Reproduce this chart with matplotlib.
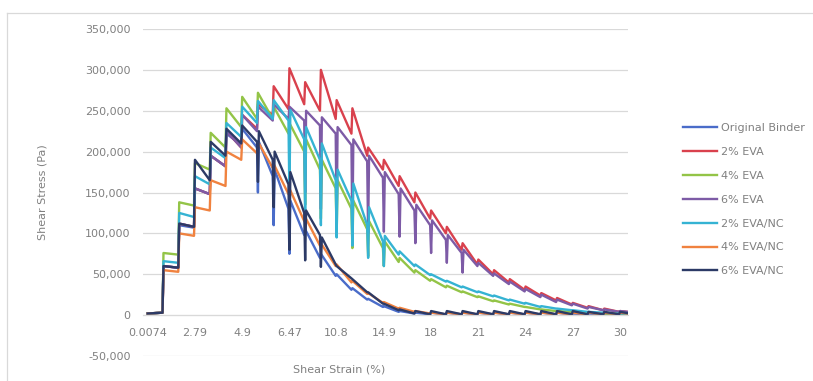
import numpy as np
import matplotlib
matplotlib.use("Agg")
import matplotlib.pyplot as plt
from matplotlib.lines import Line2D
from matplotlib.ticker import FuncFormatter

# strain labels shown on the category axis (every 3rd strain step)
strain_labels = ["0.0074", "2.79", "4.9", "6.47", "10.8", "14.9", "18", "21", "24", "27", "30"]
steps_per_label = 3
n_steps = 31

series_names = ["Original Binder", "2% EVA", "4% EVA", "6% EVA",
                "2% EVA/NC", "4% EVA/NC", "6% EVA/NC"]
colours = ["#4a6cc9", "#d9414d", "#93c447", "#7d5ba6",
           "#35b3d3", "#f0823f", "#2c3a66"]

# shear stress (kPa) at the start (top) and end (bot) of every strain step
orig_top = [2, 60, 110, 155, 195, 222, 228, 212, 178, 140, 105, 75, 50, 33, 20, 11, 5, 3, 3, 3, 3, 3, 3, 3, 3, 3, 3, 2, 2, 2, 2]
orig_bot = [3, 58, 107, 148, 182, 208, 205, 170, 130, 98, 70, 48, 31, 19, 10, 4, 2, 1, 1, 1, 1, 1, 1, 1, 1, 1, 1, 1, 1, 1, 1]
orig_dip = {7: 150, 8: 110, 9: 75}

eva2_top = [2, 60, 112, 155, 195, 225, 245, 258, 280, 302, 285, 300, 263, 253, 205, 190, 170, 150, 128, 108, 88, 68, 55, 44, 35, 27, 21, 15, 11, 8, 5]
eva2_bot = [3, 58, 108, 148, 182, 205, 228, 245, 252, 258, 250, 240, 222, 195, 178, 158, 138, 118, 100, 80, 62, 50, 40, 31, 24, 18, 13, 9, 6, 4, 3]
eva2_dip = {}

eva4_top = [2, 76, 138, 186, 223, 253, 267, 272, 255, 235, 215, 190, 165, 140, 115, 90, 70, 55, 44, 36, 29, 23, 18, 14, 10, 7, 5, 4, 3, 2, 2]
eva4_bot = [3, 74, 134, 178, 205, 230, 240, 240, 222, 200, 178, 155, 130, 105, 82, 65, 52, 42, 34, 28, 22, 17, 13, 10, 7, 5, 4, 3, 2, 2, 2]
eva4_dip = {10: 135, 11: 118, 12: 98, 13: 82, 14: 72, 15: 60}

eva6_top = [2, 60, 112, 155, 195, 225, 245, 255, 258, 255, 250, 242, 230, 215, 195, 175, 155, 135, 116, 98, 80, 64, 51, 41, 32, 25, 19, 14, 10, 7, 5]
eva6_bot = [3, 58, 108, 148, 182, 205, 225, 238, 240, 238, 232, 222, 208, 188, 168, 148, 128, 110, 92, 76, 60, 48, 38, 29, 22, 16, 12, 8, 6, 4, 3]
eva6_dip = {10: 150, 11: 130, 12: 110, 13: 98, 14: 100, 15: 102, 16: 96, 17: 88, 18: 76, 19: 64, 20: 52}

nc2_top = [2, 66, 125, 170, 205, 235, 255, 262, 263, 251, 230, 210, 178, 161, 132, 97, 78, 62, 50, 42, 35, 29, 24, 19, 15, 11, 8, 6, 4, 3, 2]
nc2_bot = [3, 64, 120, 160, 192, 218, 235, 240, 238, 215, 190, 165, 140, 110, 90, 74, 60, 49, 41, 34, 28, 23, 18, 14, 10, 8, 6, 4, 3, 2, 2]
nc2_dip = {9: 145, 10: 120, 11: 110, 12: 95, 13: 85, 14: 70, 15: 60}

nc4_top = [2, 55, 100, 132, 165, 200, 215, 212, 185, 155, 120, 88, 62, 42, 27, 16, 9, 5, 3, 3, 3, 3, 3, 3, 3, 3, 3, 3, 3, 3, 3]
nc4_bot = [3, 53, 97, 128, 158, 190, 198, 180, 148, 115, 85, 60, 40, 26, 15, 8, 4, 2, 1, 1, 1, 1, 1, 1, 1, 1, 1, 1, 1, 1, 1]
nc4_dip = {}

nc6_top = [2, 60, 112, 190, 212, 228, 232, 225, 200, 175, 128, 95, 60, 44, 28, 14, 7, 5, 5, 5, 5, 5, 5, 5, 5, 5, 5, 5, 4, 4, 4]
nc6_bot = [3, 58, 108, 165, 195, 210, 212, 190, 160, 125, 98, 62, 45, 28, 14, 6, 2, 1, 1, 1, 1, 1, 1, 1, 1, 1, 1, 1, 1, 1, 1]
nc6_dip = {7: 163, 8: 132, 9: 80, 10: 67, 11: 59}

tops = [orig_top, eva2_top, eva4_top, eva6_top, nc2_top, nc4_top, nc6_top]
bots = [orig_bot, eva2_bot, eva4_bot, eva6_bot, nc2_bot, nc4_bot, nc6_bot]
dips = [orig_dip, eva2_dip, eva4_dip, eva6_dip, nc2_dip, nc4_dip, nc6_dip]


def build_curve(top, bot, dip):
    # each strain step: (dip) -> top at the start, linear fall to bot at the end
    xs, ys = [], []
    d = 0.02
    for k in range(n_steps):
        x0 = k / steps_per_label
        x1 = (k + 1) / steps_per_label
        if k in dip:
            xs += [x0, x0 + d]
            ys += [dip[k], top[k]]
        else:
            xs.append(x0)
            ys.append(top[k])
        xs.append(x1 - d)
        ys.append(bot[k])
    return np.array(xs), np.array(ys) * 1000


fig = plt.figure(figsize=(8.13, 3.81), dpi=100)
ax = fig.add_axes([0.1759, 0.0656, 0.5966, 0.8583])

grey_txt = "#808080"
grid_col = "#d9d9d9"

for i in range(len(series_names)):
    x, y = build_curve(tops[i], bots[i], dips[i])
    ax.plot(x, y, color=colours[i], lw=1.7, label=series_names[i],
            solid_joinstyle="round")

ax.set_xlim(-0.1, 10.17)
ax.set_ylim(-50000, 350000)
ax.set_yticks(np.arange(-50000, 350001, 50000))
ax.yaxis.set_major_formatter(FuncFormatter(lambda v, p: "{:,.0f}".format(v)))
ax.set_xticks(np.arange(len(strain_labels)))
ax.set_xticklabels(strain_labels)
ax.grid(axis="y", color=grid_col, lw=0.9)
ax.set_axisbelow(True)

for s in ["top", "left", "right"]:
    ax.spines[s].set_visible(False)
ax.spines["bottom"].set_position(("data", 0))
ax.spines["bottom"].set_color(grid_col)
ax.tick_params(axis="both", length=0, labelsize=8, labelcolor=grey_txt)
ax.tick_params(axis="y", pad=9)
ax.tick_params(axis="x", pad=9)

ax.set_ylabel("Shear Stress (Pa)", fontsize=8, color=grey_txt, labelpad=27)
fig.text(339 / 813, 1 - 370 / 381, "Shear Strain (%)", fontsize=8,
         color=grey_txt, ha="center", va="center")

leg = fig.legend(loc="center left", bbox_to_anchor=(0.840, 0.476),
                 frameon=False, fontsize=8, handlelength=3.1,
                 handletextpad=0.3, labelspacing=1.25, borderpad=0,
                 borderaxespad=0)
for t in leg.get_texts():
    t.set_color(grey_txt)

# chart area border (top and left edges visible)
fig.add_artist(Line2D([7 / 813, 1.0], [1 - 13 / 381, 1 - 13 / 381],
                      color=grid_col, lw=0.9, transform=fig.transFigure))
fig.add_artist(Line2D([7 / 813, 7 / 813], [0.0, 1 - 13 / 381],
                      color=grid_col, lw=0.9, transform=fig.transFigure))

fig.savefig("out.png", dpi=100)
